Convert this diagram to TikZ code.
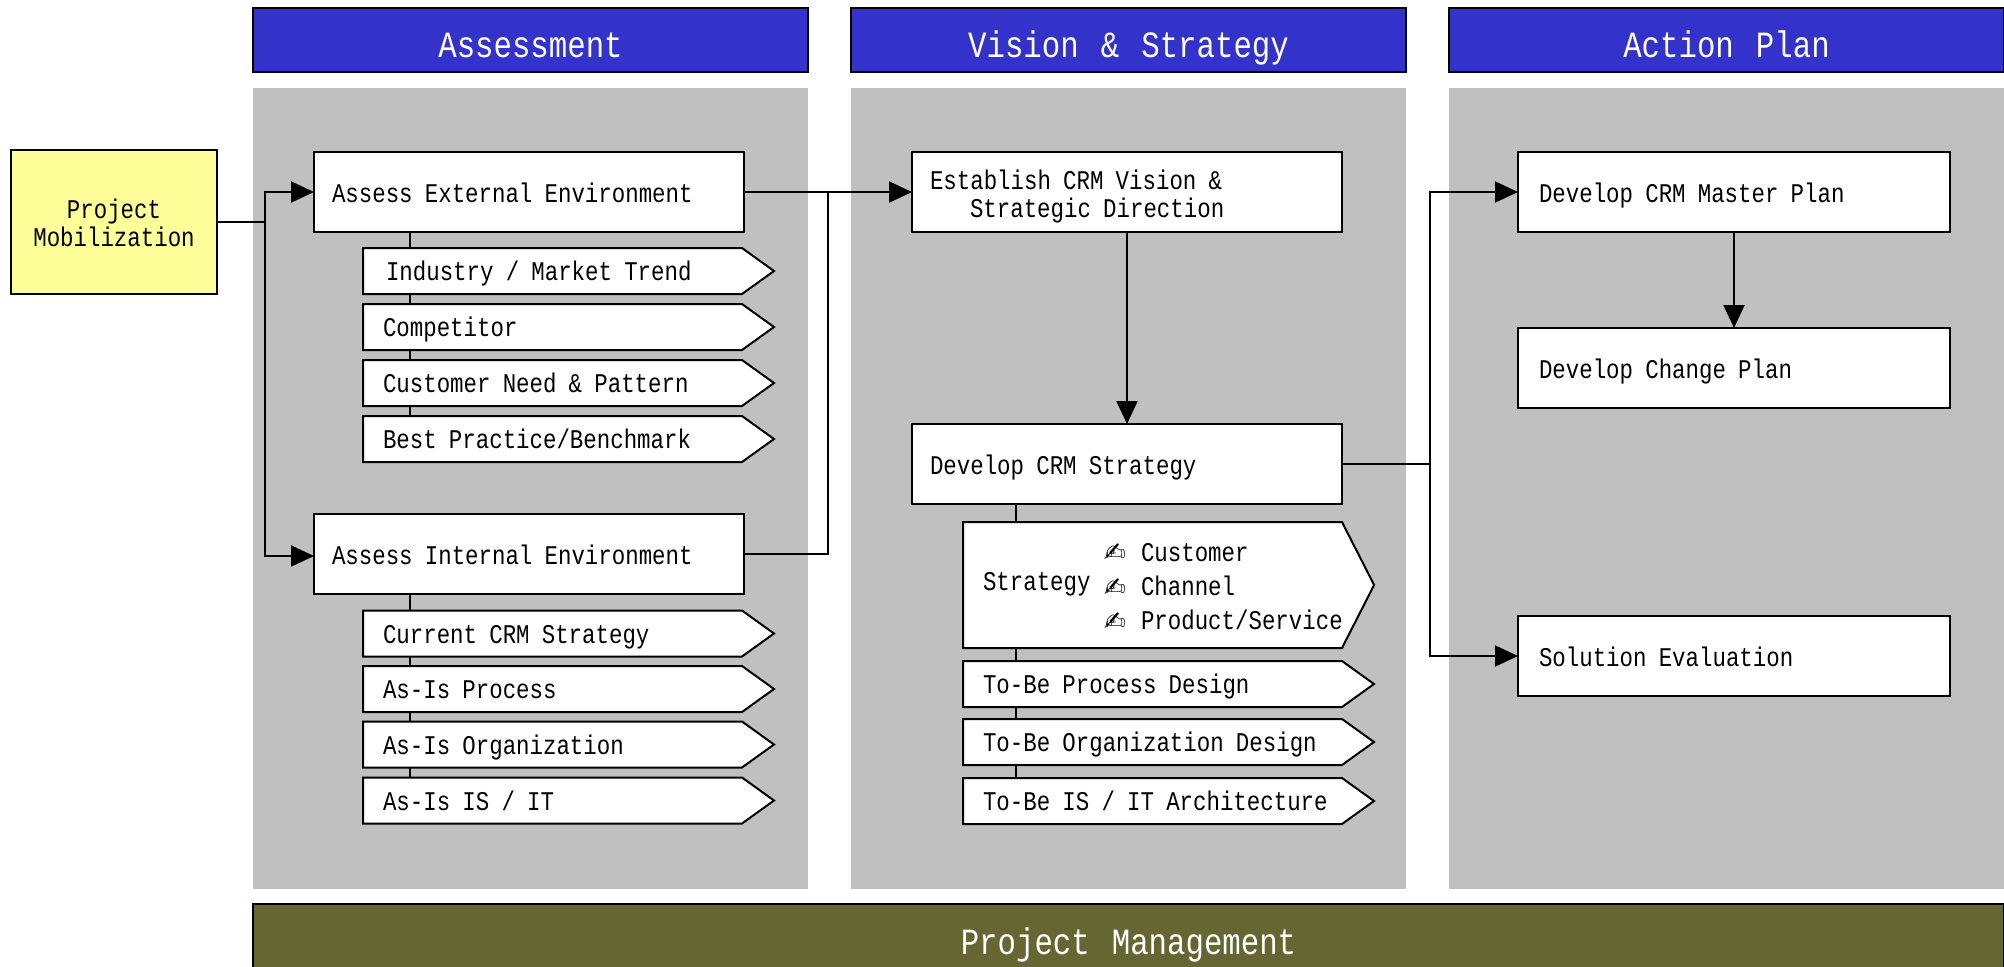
\documentclass[tikz,border=0pt]{standalone}
\usepackage{fontspec}
\usetikzlibrary{shapes.symbols,arrows.meta}
\newfontfamily\lab[FakeStretch=0.83,WordSpace=1.2]{Liberation Mono}
\newfontfamily\symf{DejaVu Sans}
\definecolor{hdrblue}{HTML}{3333CC}
\definecolor{olive}{HTML}{666633}
\definecolor{panelgray}{HTML}{C0C0C0}
\definecolor{mobyellow}{HTML}{FFFF99}
\tikzset{
  base/.style={font=\lab\fontsize{13.5}{14}\selectfont, outer sep=0pt, text height=12pt, text depth=1.5pt, execute at begin node={\spaceskip=6.1pt\relax}},
  hdr/.style={draw=black, line width=1pt, fill=hdrblue, text=white, anchor=north west, outer sep=0pt, font=\lab\fontsize{18.5}{20}\selectfont, text height=18pt, text depth=1pt},
  panel/.style={fill=panelgray, anchor=north west, outer sep=0pt, inner sep=0pt},
  tbox/.style={base, draw=black, line width=1pt, fill=white, anchor=north west, inner ysep=0pt, align=left, minimum height=40pt, inner xsep=#1},
  tbox/.default=9pt,
  tag/.style={base, draw=black, line width=1pt, fill=white, shape=signal, signal from=nowhere, signal to=east, signal pointer angle=71.4, anchor=west, inner xsep=10pt, inner ysep=0pt, text width=169.5pt, align=left, minimum height=23pt, text height=11pt, text depth=1.4pt},
  txt/.style={base, anchor=west, inner sep=0pt, text height=11pt, text depth=2pt},
  conn/.style={draw=black, line width=1pt},
  arr/.style={conn, -{Triangle[length=11.5pt,width=10.5pt]}},
  stem/.style={draw=black, line width=1pt},
}
\begin{document}
\begin{tikzpicture}[x=0.5pt,y=-0.5pt]
\useasboundingbox (0,0) rectangle (2004,966);
\clip (0,0) rectangle (2004,966);
% headers
\node[hdr, minimum width=277.5pt, minimum height=32pt] (h1) at (253,8) {Assessment};
\node[hdr, minimum width=277.5pt, minimum height=32pt] (h2) at (851,8) {Vision \& Strategy};
\node[hdr, minimum width=277.5pt, minimum height=32pt] (h3) at (1449,8) {Action Plan};
% panels
\node[panel, minimum width=277.5pt, minimum height=400.5pt] (p1) at (253,88) {};
\node[panel, minimum width=277.5pt, minimum height=400.5pt] (p2) at (851,88) {};
\node[panel, minimum width=277.5pt, minimum height=400.5pt] (p3) at (1449,88) {};
% bottom bar
\node[hdr, fill=olive, minimum width=875.5pt, minimum height=37pt, text height=14pt, text depth=0.8pt] (pmg) at (253,904) {Project Management};
% mobilization
\node[base, draw=black, line width=1pt, fill=mobyellow, anchor=north west, minimum width=103pt, minimum height=72pt, align=center, text height=, text depth=] (mob) at (11,150) {\rule{0pt}{11pt}Project\\Mobilization};
% assessment
\node[tbox, text width=197pt, minimum width=215pt] (ext) at (314,152) {Assess External Environment};
\node[tag] (ind) at (363,271) {\hspace{1.5pt}Industry / Market Trend};
\node[tag] (comp) at (363,327) {Competitor};
\node[tag] (cust) at (363,383) {Customer Need \& Pattern};
\node[tag] (best) at (363,439) {Best Practice/Benchmark};
\node[tbox, text width=197pt, minimum width=215pt] (int) at (314,514) {Assess Internal Environment};
\node[tag] (cur) at (363,633.5) {Current CRM Strategy};
\node[tag] (proc) at (363,689) {As-Is Process};
\node[tag] (org) at (363,744.5) {As-Is Organization};
\node[tag] (isit) at (363,800.5) {As-Is IS / IT};
% vision
\node[tbox, text width=197pt, minimum width=215pt, text height=, text depth=] (est) at (912,152) {\rule{0pt}{14pt}Establish CRM Vision \&\\\hspace{20pt}Strategic Direction};
\node[tbox, text width=197pt, minimum width=215pt] (dev) at (912,424) {Develop CRM Strategy};
\node[tag, signal pointer angle=126.0, minimum height=63pt, text height=8.5pt, text depth=2.7pt] (strat) at (963,585) {Strategy};
\node[txt] (h-a) at (1104,552) {\symf\fontsize{13}{14}\selectfont ✍};
\node[txt] (h-b) at (1104,587) {\symf\fontsize{13}{14}\selectfont ✍};
\node[txt] (h-c) at (1104,621) {\symf\fontsize{13}{14}\selectfont ✍};
\node[txt] (s-a) at (1141,552) {Customer};
\node[txt] (s-b) at (1141,586) {Channel};
\node[txt] (s-c) at (1141,620) {Product/Service};
\node[tag] (tproc) at (963,684) {To-Be Process Design};
\node[tag] (torg) at (963,742) {\mbox{To-Be Organization Design}};
\node[tag] (tis) at (963,801) {\mbox{To-Be IS / IT Architecture}};
% action plan
\node[tbox=10.5pt, text width=195pt, minimum width=216pt] (mas) at (1518,152) {Develop CRM Master Plan};
\node[tbox=10.5pt, text width=195pt, minimum width=216pt] (chg) at (1518,328) {Develop Change Plan};
\node[tbox=10.5pt, text width=195pt, minimum width=216pt] (sol) at (1518,616) {Solution Evaluation};
% junctions
\coordinate (bus) at (265,222);
\coordinate (jx) at (828,192);
\coordinate (jy) at (1430,464);
\coordinate (sa) at (409.5,0);
\coordinate (sb) at (1016,0);
% connectors
\draw[conn] (mob.east) -- (bus);
\draw[arr] (bus) |- (ext.west);
\draw[arr] (bus) |- ([yshift=-1pt]int.west);
\draw[arr] (ext.east) -- (est.west);
\draw[conn] (int.east) -| (jx);
\draw[arr] (est.south) -- (dev.north);
\draw[conn] (dev.east) -- (jy);
\draw[arr] (jy) |- (mas.west);
\draw[arr] (jy) |- (sol.west);
\draw[arr] (mas.south) -- (chg.north);
% stems
\foreach \a/\b in {ext/ind,ind/comp,comp/cust,cust/best,int/cur,cur/proc,proc/org,org/isit}
  \draw[stem] (\a.south -| sa) -- (\b.north -| sa);
\foreach \a/\b in {dev/strat,strat/tproc,tproc/torg,torg/tis}
  \draw[stem] (\a.south -| sb) -- (\b.north -| sb);
\end{tikzpicture}
\end{document}
